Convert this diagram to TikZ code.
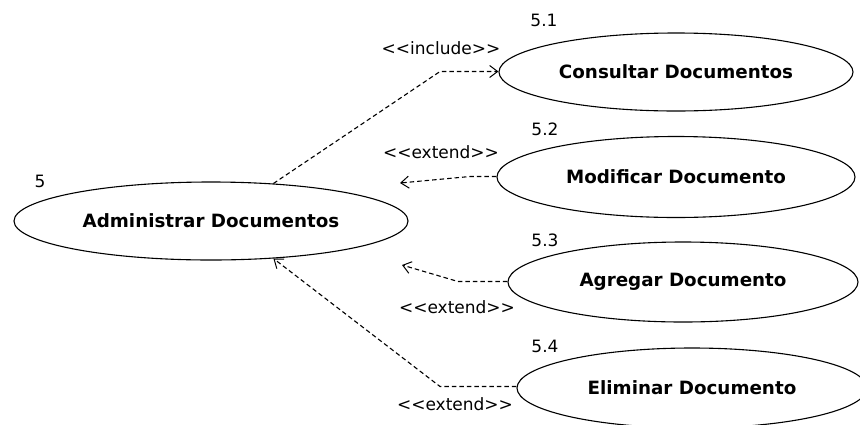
\documentclass[tikz,border=0pt]{standalone}
\usepackage{fontspec}
\setmainfont{DejaVu Sans}
\usetikzlibrary{shapes.geometric,arrows.meta}

% stereotype text such as <<extend>>, kept from turning into guillemets
\newcommand\stereotype[1]{<\kern0pt<#1>\kern0pt>}

\begin{document}
\begin{tikzpicture}[x=1pt,y=-1pt,
  usecase/.style={ellipse,draw,line width=1.1pt,inner sep=0pt,
    font=\fontsize{18.3}{20}\selectfont\bfseries},
  num/.style={font=\fontsize{17}{18}\selectfont,inner sep=0pt},
  stereo/.style={font=\fontsize{17}{18}\selectfont,inner sep=0pt},
  dep/.style={line width=1.1pt,dash pattern=on 4.5pt off 3pt,
    -{Straight Barb[length=8pt,width=12pt,line width=1pt]}}]
\useasboundingbox (0,0) rectangle (860,424);
\clip (0,0) rectangle (860,424);
\fill[white] (0,0) rectangle (860,424);

% use cases
\node[usecase,minimum width=394pt,minimum height=78pt] (adm) at (211,221) {Administrar Documentos};
\node[usecase,minimum width=354pt,minimum height=78pt] (cons) at (676,72) {Consultar Documentos};
\node[usecase,minimum width=358pt,minimum height=81pt] (mod) at (676,177) {Modificar Documento};
\node[usecase,minimum width=350pt,minimum height=80pt] (agr) at (683,282) {Agregar Documento};
\node[usecase,minimum width=350pt,minimum height=80pt] (elim) at (692,388) {Eliminar Documento};

% numbers
\node[num] (n5) at (40,181) {5};
\node[num] (n51) at (544,20) {5.1};
\node[num] (n52) at (545,129) {5.2};
\node[num] (n53) at (545,240) {5.3};
\node[num] (n54) at (545,346) {5.4};

% bends and free ends of the dependencies
\coordinate (incbend) at (440,71.5);
\coordinate (modbend) at (470,176.5);
\coordinate (modtip) at (400,183);
\coordinate (agrbend) at (458,281.5);
\coordinate (agrtip) at (402,265);
\coordinate (elimbend) at (440,386.5);

% dependencies
\draw[dep] (adm.31.5) -- (incbend) -- (cons.west |- incbend);
\draw[dep] (mod.west |- modbend) -- (modbend) -- (modtip);
\draw[dep] (agr.west |- agrbend) -- (agrbend) -- (agrtip);
\draw[dep] (elim.west |- elimbend) -- (elimbend) -- (adm.-31);

% stereotypes
\node[stereo] (s1) at (441,48) {\stereotype{include}};
\node[stereo] (s2) at (441,152) {\stereotype{extend}};
\node[stereo] (s3) at (457,307) {\stereotype{extend}};
\node[stereo] (s4) at (455,404) {\stereotype{extend}};
\end{tikzpicture}
\end{document}
